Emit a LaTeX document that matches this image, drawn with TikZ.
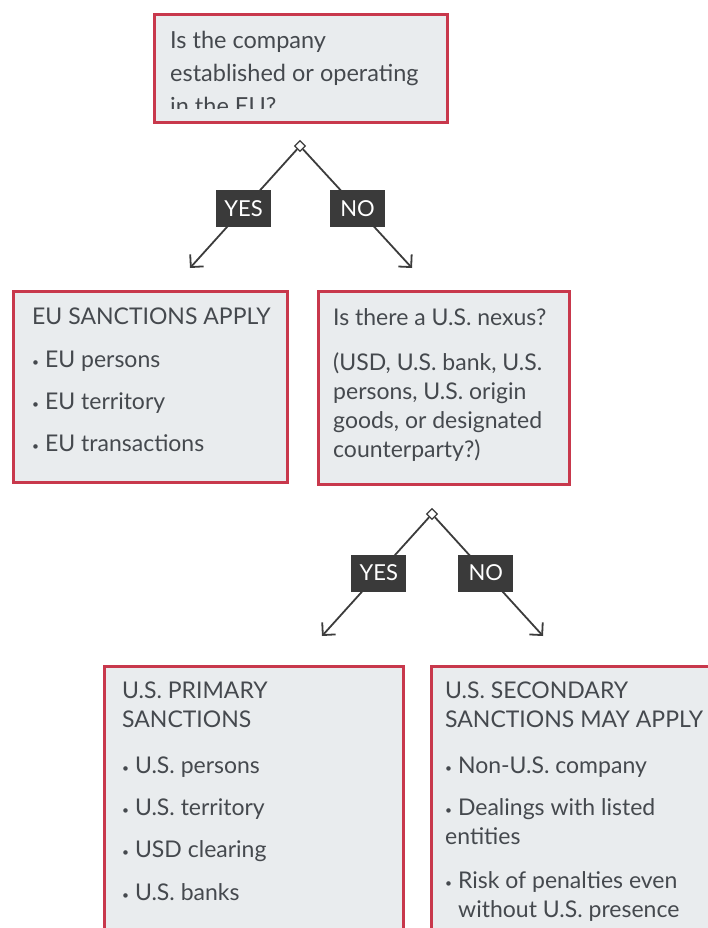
\documentclass[tikz,border=0pt]{standalone}
\usepackage{fontspec}
\setmainfont{Lato}
\usetikzlibrary{shapes.geometric,arrows.meta}
\definecolor{framered}{HTML}{C8384C}
\definecolor{boxfill}{HTML}{E9ECEE}
\definecolor{inkgray}{HTML}{45494E}
\definecolor{tagdark}{HTML}{3A3A3A}
\definecolor{linegray}{HTML}{3C3C3C}
\tikzset{
  frame/.style={draw=framered,line width=3pt,fill=boxfill,anchor=north west,inner sep=0pt},
  txt/.style={anchor=north west,inner sep=0pt,align=left,text=inkgray,font=\fontsize{23}{29}\selectfont},
  tag/.style={fill=tagdark,text=white,minimum width=55pt,minimum height=37pt,inner sep=0pt,font=\fontsize{22}{22}\selectfont},
  fork/.style={diamond,draw=linegray,fill=white,line width=1.3pt,minimum size=11pt,inner sep=0pt},
  branch/.style={draw=linegray,line width=1.8pt,-{Straight Barb[length=9pt,width=18pt,line width=1.8pt]}}
}
\newcommand{\bul}{\raisebox{1.5pt}{\fontsize{12}{12}\selectfont\textbullet}\ }

\begin{document}
\begin{tikzpicture}[x=1pt,y=-1pt]
  \useasboundingbox (0,0) rectangle (708,928);
  \clip (0,0) rectangle (708,928);

  % question boxes
  \node[frame,minimum width=293pt,minimum height=108pt] (q1) at (153,13) {};
  \node[txt,font=\fontsize{23.5}{33}\selectfont] (q1txt) at (170,31)
    {Is the company\\ established or operating\\ in the EU?};
  \fill[boxfill] (157,109) rectangle (442,118);

  \node[frame,minimum width=274pt,minimum height=191pt] (eu) at (12,290) {};
  \node[txt] (eutxt) at (32,308)
    {EU SANCTIONS APPLY\\[14pt] \bul EU persons\\[13pt] \bul EU territory\\[13pt] \bul EU transactions};

  \node[frame,minimum width=251pt,minimum height=193pt] (q2) at (317,290) {};
  \node[txt] (q2txt) at (333,308)
    {Is there a U.S. nexus?\\[16pt] (USD, U.S. bank, U.S.\\ persons, U.S. origin\\ goods, or designated\\ counterparty?)};

  % outcome boxes, cut at the bottom
  \node[frame,minimum width=299pt,minimum height=300pt] (prim) at (103,665) {};
  \node[txt] (primtxt) at (122,682)
    {U.S. PRIMARY\\ SANCTIONS\\[17pt] \bul U.S. persons\\[13pt] \bul U.S. territory\\[13pt] \bul USD clearing\\[14pt] \bul U.S. banks};

  \node[frame,minimum width=300pt,minimum height=300pt] (sec) at (430,665) {};
  \node[txt] (sectxt) at (445,682)
    {U.S. SECONDARY\\ SANCTIONS MAY APPLY\\[17pt] \bul Non-U.S. company\\[13pt] \bul Dealings with listed\\ entities\\[15pt] \bul Risk of penalties even\\ \hspace*{13pt}without U.S. presence};

  % branches
  \node[fork] (f1) at (300,146) {};
  \coordinate (e1a) at (190,268);
  \coordinate (e1b) at (412,268);
  \draw[branch] (f1) -- node[tag,pos=0.5] (y1) {YES} (e1a);
  \draw[branch] (f1) -- node[tag,pos=0.5] (n1) {NO} (e1b);

  \node[fork] (f2) at (432,514) {};
  \coordinate (e2a) at (322,636);
  \coordinate (e2b) at (543,636);
  \draw[branch] (f2) -- node[tag,pos=0.47] (y2) {YES} (e2a);
  \draw[branch] (f2) -- node[tag,pos=0.47] (n2) {NO} (e2b);
\end{tikzpicture}
\end{document}
